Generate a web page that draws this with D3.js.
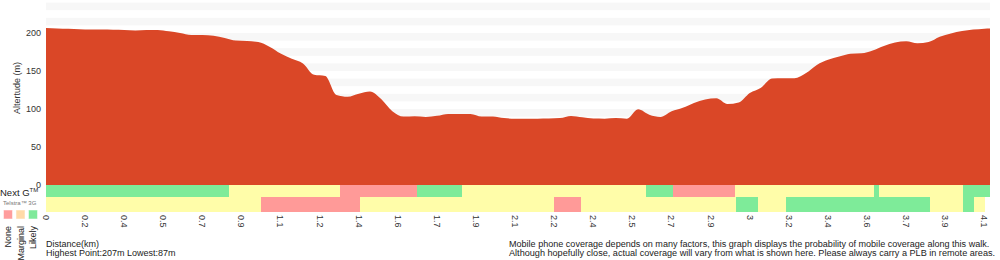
<!DOCTYPE html>
<html>
<head>
<meta charset="utf-8">
<script src="https://cdn.jsdelivr.net/npm/d3@7"></script>
<style>
  body { margin: 0; background: #fff; }
  svg { display: block; font-family: "Liberation Sans", Arial, Helvetica, sans-serif; }
</style>
</head>
<body>
<script>
// altitude (m), read every 2nd sample along the walk; last value is the final sample
var elevation = [
  206.6, 206, 205.5, 205, 204.7, 204.5, 204.3, 204, 203.3, 204,
  204, 202.3, 200, 197.4, 197.4, 196.5, 193.5, 190, 189.5, 188,
  182, 173, 166, 160, 145, 143.4, 118.4, 116, 120, 123,
  113, 97, 90, 90.4, 89.5, 91, 93.5, 93.5, 93.4, 90,
  90, 88, 87.3, 87.3, 87.3, 87.5, 88, 90.8, 89, 87.5,
  87.3, 88, 87.2, 99.6, 92.5, 89.5, 97, 101.5, 108, 112.5,
  114, 106.5, 108.5, 121, 128, 140, 140.4, 140.4, 147, 158,
  164.8, 169, 172.6, 173.3, 177, 183, 187.5, 189, 186.4, 188,
  195, 199.5, 202.5, 204.5, 205.7, 206
];
var sampleCount = 170;
var tickEvery = 7;
var tickLabels = ["0", "0.2", "0.4", "0.5", "0.7", "0.9", "1.1", "1.2", "1.4", "1.6", "1.7", "1.9",
  "2.1", "2.2", "2.4", "2.5", "2.7", "2.9", "3", "3.2", "3.4", "3.6", "3.7", "3.9", "4.1"];
var yTicks = [0, 50, 100, 150, 200];

// coverage runs: [start sample, level]; each run ends where the next starts
var nextG = [[0, "likely"], [32.8, "marginal"], [52.6, "none"], [66.4, "likely"], [74.5, "marginal"],
  [107.4, "likely"], [112.2, "none"], [123.3, "marginal"], [148.2, "likely"], [149.1, "marginal"],
  [164.2, "likely"]];
var nextGEnd = 169;
var telstra3G = [[0, "marginal"], [38.5, "none"], [56.2, "marginal"], [90.9, "none"], [95.8, "marginal"],
  [123.5, "likely"], [127.5, "marginal"], [132.5, "likely"], [158.3, "marginal"], [164.2, "likely"],
  [166.1, "marginal"]];
var telstra3GEnd = 168.1;

var levels = ["none", "marginal", "likely"];
var levelLabels = ["None", "Marginal", "Likely"];

var barColor = { none: "#ff9a98", marginal: "#fffda9", likely: "#7eeb99" };
var keyColor = { none: "#ff9d9d", marginal: "#ffdaa8", likely: "#7fe99a" };

var width = 1000, height = 260;
var plot = { left: 46, right: 990, top: 2.6, bottom: 185 };

var svg = d3.select("body").append("svg")
    .attr("width", width)
    .attr("height", height);

var x = d3.scaleLinear()
    .domain([0, sampleCount - 1])
    .range([plot.left, plot.right]);

var y = d3.scaleLinear()
    .domain([0, 240])
    .range([plot.bottom, plot.top]);

// striped background
svg.append("g").selectAll("rect")
    .data(d3.range(0, 240, 20))
  .enter().append("rect")
    .attr("x", plot.left)
    .attr("width", plot.right - plot.left)
    .attr("y", function(d) { return y(d + 20); })
    .attr("height", function(d) { return y(d + 10) - y(d + 20); })
    .attr("fill", "#f7f7f7");

var points = elevation.map(function(d, i) {
  return { s: Math.min(i * 2, sampleCount - 1), v: d };
});

var area = d3.area()
    .x(function(d) { return x(d.s); })
    .y0(y(0))
    .y1(function(d) { return y(d.v); })
    .curve(d3.curveMonotoneX);

svg.append("path")
    .datum(points)
    .attr("d", area)
    .attr("fill", "#da4727");

// y axis
var yAxis = d3.axisLeft(y).tickValues(yTicks).tickSize(0).tickPadding(5);
var gy = svg.append("g")
    .attr("transform", "translate(" + plot.left + ",0)")
    .call(yAxis);
gy.select(".domain").remove();
gy.selectAll("text")
    .attr("font-family", null)
    .attr("font-size", 9)
    .attr("fill", "#333");

svg.append("text")
    .attr("transform", "translate(20,88) rotate(-90)")
    .attr("text-anchor", "middle")
    .attr("font-size", 9)
    .attr("fill", "#333")
    .text("Altertude (m)");

// coverage rows
function runs(data, end) {
  return data.map(function(d, i) {
    return { a: d[0], b: i < data.length - 1 ? data[i + 1][0] : end, level: d[1] };
  });
}

var rows = [
  { runs: runs(nextG, nextGEnd), y: 185, h: 12 },
  { runs: runs(telstra3G, telstra3GEnd), y: 197, h: 15 }
];

rows.forEach(function(row) {
  svg.append("g").selectAll("rect")
      .data(row.runs)
    .enter().append("rect")
      .attr("x", function(d) { return x(d.a); })
      .attr("width", function(d) { return x(d.b) - x(d.a); })
      .attr("y", row.y)
      .attr("height", row.h)
      .attr("fill", function(d) { return barColor[d.level]; })
      .attr("shape-rendering", "crispEdges");
});

// x tick labels
svg.append("g").selectAll("text")
    .data(tickLabels)
  .enter().append("text")
    .attr("transform", function(d, i) { return "translate(" + x(i * tickEvery) + ",215) rotate(90)"; })
    .attr("dy", "0.35em")
    .attr("font-size", 9)
    .attr("fill", "#333")
    .text(function(d) { return d; });

// row names
var ng = svg.append("text")
    .attr("x", 0)
    .attr("y", 196)
    .attr("font-size", 9.5)
    .attr("fill", "#222")
    .text("Next G");
ng.append("tspan")
    .attr("font-size", 6)
    .attr("dy", -4)
    .text("TM");

svg.append("text")
    .attr("x", 3)
    .attr("y", 205)
    .attr("font-size", 6)
    .attr("fill", "#777")
    .text("Telstra\u2122 3G");

// key
var key = d3.scalePoint().domain(levels).range([8, 33]);

svg.append("g").selectAll("rect")
    .data(levels)
  .enter().append("rect")
    .attr("x", function(d) { return key(d) - 4.5; })
    .attr("y", 210)
    .attr("width", 9)
    .attr("height", 9)
    .attr("fill", function(d) { return keyColor[d]; })
    .attr("stroke", "#fff")
    .attr("stroke-opacity", 0.5);

svg.append("g").selectAll("text")
    .data(levels)
  .enter().append("text")
    .attr("transform", function(d) { return "translate(" + key(d) + ",226) rotate(-90)"; })
    .attr("dy", "0.35em")
    .attr("text-anchor", "end")
    .attr("font-size", 9)
    .attr("fill", "#222")
    .text(function(d, i) { return levelLabels[i]; });

// footer
var foot = svg.append("g").attr("font-size", 9).attr("fill", "#222");
foot.append("text").attr("x", 46).attr("y", 247).text("Distance(km)");
foot.append("text").attr("x", 46).attr("y", 256).text("Highest Point:207m Lowest:87m");
foot.append("text").attr("x", 509).attr("y", 247).attr("font-size", 9.05)
    .text("Mobile phone coverage depends on many factors, this graph displays the probability of mobile coverage along this walk.");
foot.append("text").attr("x", 509).attr("y", 256).attr("font-size", 9.12)
    .text("Although hopefully close, actual coverage will vary from what is shown here. Please always carry a PLB in remote areas.");
</script>
</body>
</html>
